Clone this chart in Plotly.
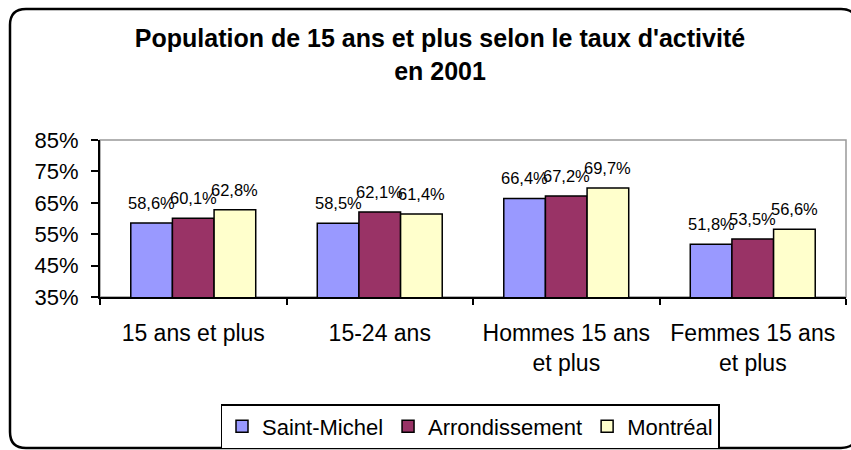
import plotly.graph_objects as go

categories = ["15 ans et plus", "15-24 ans", "Hommes 15 ans<br>et plus", "Femmes 15 ans<br>et plus"]
series_names = ["Saint-Michel", "Arrondissement", "Montréal"]
saint_michel = [58.6, 58.5, 66.4, 51.8]
arrondissement = [60.1, 62.1, 67.2, 53.5]
montreal = [62.8, 61.4, 69.7, 56.6]
y_ticks = [35, 45, 55, 65, 75, 85]
title_lines = ["Population de 15 ans et plus selon le taux d'activité", "en 2001"]

colors = ["#9999FF", "#993366", "#FFFFCC"]
FONT = "Arial, Liberation Sans, sans-serif"

W, H = 851, 450
L, R, T, B = 100, 846, 140, 297

def px(x):
    return (x - L) / (R - L)

def py(y):
    return (B - y) / (B - T)

def fmt(v):
    return f"{v:.1f}".replace(".", ",") + "%"

fig = go.Figure()
all_series = [saint_michel, arrondissement, montreal]
for name, vals, c in zip(series_names, all_series, colors):
    fig.add_trace(go.Bar(
        x=categories, y=vals, name=name,
        marker=dict(color=c, line=dict(color="black", width=1.5)),
        hoverinfo="x+y",
    ))

# data labels
cat_w = (R - L) / len(categories)
bar_w = cat_w * 0.67 / 3
annotations = []
for j, vals in enumerate(all_series):
    for cat, v in zip(categories, vals):
        annotations.append(dict(
            x=cat, y=v, xref="x", yref="y", text=fmt(v), showarrow=False,
            xshift=(j - 1) * bar_w, yshift=9, yanchor="bottom",
            font=dict(family=FONT, size=16.5, color="black"),
        ))

# outer rounded border
x0, x1, y0, y1 = 10, 857, 9, 448
r = 16
path = (f"M {px(x0+r)},{py(y0)} L {px(x1-r)},{py(y0)} Q {px(x1)},{py(y0)} {px(x1)},{py(y0+r)} "
        f"L {px(x1)},{py(y1-r)} Q {px(x1)},{py(y1)} {px(x1-r)},{py(y1)} "
        f"L {px(x0+r)},{py(y1)} Q {px(x0)},{py(y1)} {px(x0)},{py(y1-r)} "
        f"L {px(x0)},{py(y0+r)} Q {px(x0)},{py(y0)} {px(x0+r)},{py(y0)} Z")
shapes = [
    dict(type="path", xref="paper", yref="paper", path=path,
         line=dict(color="black", width=2.5), layer="below"),
    dict(type="rect", xref="paper", yref="paper", x0=0, x1=1, y0=0, y1=1,
         line=dict(color="#999999", width=1.5), layer="below"),
]

fig.update_layout(
    width=W, height=H,
    margin=dict(l=L, r=W - R, t=T, b=H - B, pad=0, autoexpand=False),
    paper_bgcolor="white", plot_bgcolor="rgba(0,0,0,0)",
    barmode="group", bargap=0.33, bargroupgap=0,
    title=dict(text="<br>".join(title_lines), x=440 / W, xanchor="center",
               y=1 - 47 / H, yanchor="middle", yref="container",
               font=dict(family=FONT, size=25, color="black", weight="bold")),
    font=dict(family=FONT, size=23, color="black"),
    xaxis=dict(type="category", showline=True, linecolor="black", linewidth=2,
               ticks="outside", tickson="boundaries", ticklen=6, tickwidth=2,
               tickcolor="black", showgrid=False, ticklabelstandoff=14, automargin=False,
               tickfont=dict(family=FONT, size=23, color="black")),
    yaxis=dict(range=[35, 85], tickvals=y_ticks, ticktext=[f"{t}%" for t in y_ticks],
               showline=True, linecolor="black", linewidth=2, ticks="outside",
               ticklen=7, tickwidth=2, tickcolor="black", showgrid=False,
               zeroline=False, ticklabelstandoff=8, automargin=False,
               tickfont=dict(family=FONT, size=22, color="black")),
    legend=dict(orientation="h", x=px(470), xanchor="center", y=py(404), yanchor="top",
                bordercolor="black", borderwidth=1.5, itemwidth=30,
                font=dict(family=FONT, size=22, color="black"),
                traceorder="normal"),
    showlegend=True,
    annotations=annotations,
    shapes=shapes,
)

fig.write_html("out.html", config={"displayModeBar": False},
               post_script="document.body.style.margin='0';document.body.style.overflow='hidden';")
